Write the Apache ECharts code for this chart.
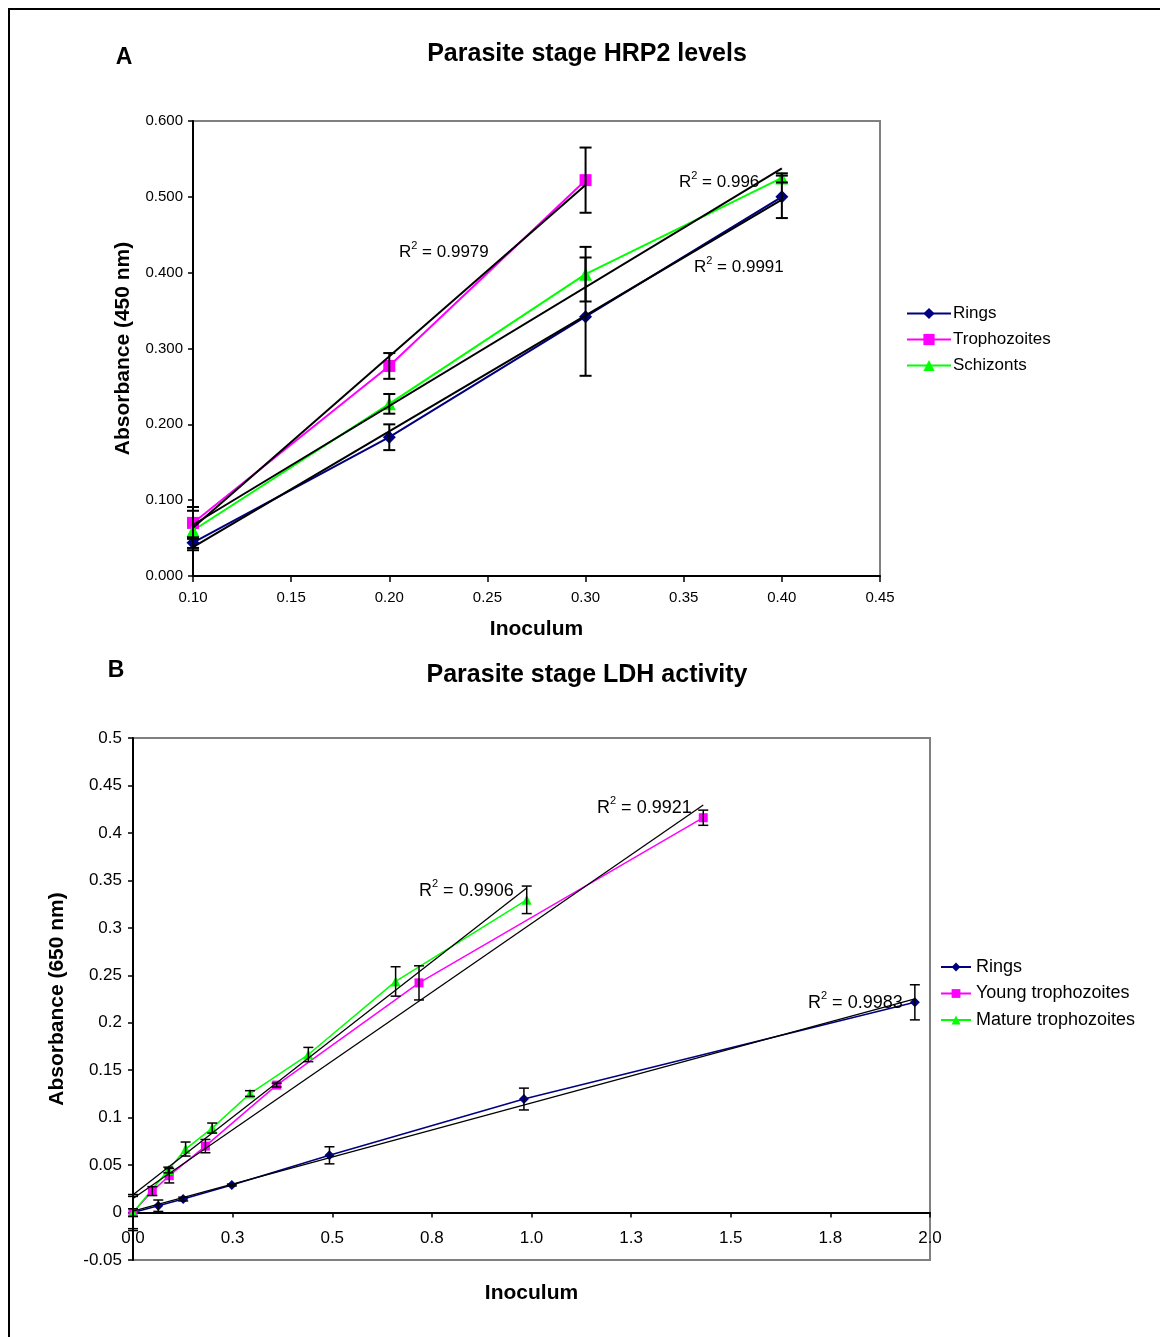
<!DOCTYPE html>
<html>
<head>
<meta charset="utf-8">
<script src="https://cdn.jsdelivr.net/npm/echarts@6/dist/echarts.min.js"></script>
<style>
  html, body { margin: 0; padding: 0; background: #fff; }
  #wrap { position: relative; width: 1160px; height: 1337px; overflow: hidden; }
  #frame { position: absolute; left: 8px; top: 8px; width: 1160px; height: 1340px; border-top: 2px solid #000; border-left: 2px solid #000; }
  #chartA { position: absolute; left: 0; top: 0; width: 1160px; height: 650px; }
  #chartB { position: absolute; left: 0; top: 650px; width: 1160px; height: 687px; }
</style>
</head>
<body>
<div id="wrap">
  <div id="frame"></div>
  <div id="chartA"></div>
  <div id="chartB"></div>
</div>
<script>
// ---------- Chart A data: Parasite stage HRP2 levels ----------
const A_titles = ['Parasite stage HRP2 levels', 'Inoculum', 'Absorbance (450 nm)'];
const A_names = ['Rings', 'Trophozoites', 'Schizonts'];
const A_ringsX = [0.10, 0.20, 0.30, 0.40];
const A_ringsY = [0.044, 0.183, 0.342, 0.500];
const A_ringsErr = [0.007, 0.017, 0.078, 0.028];
const A_trophoX = [0.10, 0.20, 0.30];
const A_trophoY = [0.070, 0.277, 0.522];
const A_trophoErr = [0.021, 0.017, 0.043];
const A_schizX = [0.10, 0.20, 0.30, 0.40];
const A_schizY = [0.060, 0.227, 0.398, 0.525];
const A_schizErr = [0.026, 0.013, 0.036, 0.006];
const A_r2 = ['0.9991', '0.9979', '0.996'];

// ---------- Chart B data: Parasite stage LDH activity ----------
const B_titles = ['Parasite stage LDH activity', 'Inoculum', 'Absorbance (650 nm)'];
const B_names = ['Rings', 'Young trophozoites', 'Mature trophozoites'];
const B_ringsX = [0, 0.0635, 0.126, 0.248, 0.493, 0.981, 1.962];
const B_ringsY = [0, 0.0072, 0.0142, 0.029, 0.0603, 0.1196, 0.2215];
const B_ringsErr = [0.004, 0.006, 0.002, 0.001, 0.009, 0.0115, 0.0185];
const B_youngX = [0, 0.0485, 0.091, 0.1817, 0.3605, 0.7177, 1.431];
const B_youngY = [0, 0.0226, 0.0388, 0.0700, 0.1343, 0.2420, 0.4160];
const B_youngErr = [0.017, 0.0047, 0.0076, 0.007, 0.002, 0.018, 0.008];
const B_matureX = [0, 0.0886, 0.132, 0.1987, 0.2936, 0.440, 0.659, 0.988];
const B_matureY = [0, 0.0448, 0.0669, 0.0890, 0.1254, 0.1665, 0.2435, 0.3295];
const B_matureErr = [0.019, 0.003, 0.0074, 0.0053, 0.003, 0.0075, 0.0155, 0.0145];
const B_r2 = ['0.9983', '0.9921', '0.9906'];
const B_xTickLabels = ['0.0', '0.3', '0.5', '0.8', '1.0', '1.3', '1.5', '1.8', '2.0'];

// ---------- helpers ----------
const FONT = '"Liberation Sans", Arial, Helvetica, sans-serif';
const NAVY = '#000080', MAGENTA = '#FF00FF', LIME = '#00FF00';

function pairs(xs, ys) { return xs.map((x, i) => [x, ys[i]]); }
function errData(xs, ys, es) { return xs.map((x, i) => [x, ys[i] - es[i], ys[i] + es[i]]); }
function linFit(xs, ys) {
  const n = xs.length;
  const mx = xs.reduce((a, b) => a + b, 0) / n;
  const my = ys.reduce((a, b) => a + b, 0) / n;
  let sxy = 0, sxx = 0;
  for (let i = 0; i < n; i++) { sxy += (xs[i] - mx) * (ys[i] - my); sxx += (xs[i] - mx) * (xs[i] - mx); }
  const b = sxy / sxx, a = my - b * mx;
  const x0 = Math.min(...xs), x1 = Math.max(...xs);
  return [[x0, a + b * x0], [x1, a + b * x1]];
}
function errSeries(data, cap, lw) {
  return {
    type: 'custom', data: data, encode: { x: 0, y: [1, 2] }, z: 5, silent: true,
    renderItem: function (params, api) {
      const x = api.value(0);
      const lo = api.coord([x, api.value(1)]);
      const hi = api.coord([x, api.value(2)]);
      const st = { stroke: '#000', lineWidth: lw };
      return { type: 'group', children: [
        { type: 'line', shape: { x1: lo[0], y1: lo[1], x2: hi[0], y2: hi[1] }, style: st },
        { type: 'line', shape: { x1: lo[0] - cap, y1: lo[1], x2: lo[0] + cap, y2: lo[1] }, style: st },
        { type: 'line', shape: { x1: hi[0] - cap, y1: hi[1], x2: hi[0] + cap, y2: hi[1] }, style: st }
      ]};
    }
  };
}
function trendSeries(xs, ys, lw) {
  return { type: 'line', data: linFit(xs, ys), symbol: 'none', z: 4, silent: true,
    lineStyle: { color: '#000', width: lw }, itemStyle: { color: '#000' } };
}
function dataSeries(name, xs, ys, color, symbol, size, lw) {
  return { name: name, type: 'line', data: pairs(xs, ys), symbol: symbol, symbolSize: size, z: 3,
    showSymbol: true, lineStyle: { color: color, width: lw }, itemStyle: { color: color } };
}
function r2Text(left, top, val, fs) {
  return { type: 'text', left: left, top: top, z: 10,
    style: { text: '{a|R}{s|2}{a| = ' + val + '}', font: fs + 'px ' + FONT, fill: '#000',
      rich: { a: { fontSize: fs, fontFamily: FONT, fill: '#000', lineHeight: fs + 4, verticalAlign: 'bottom' },
              s: { fontSize: Math.round(fs * 0.62), fontFamily: FONT, fill: '#000', lineHeight: fs + 4, verticalAlign: 'top' } } } };
}
function centerText(x, y, txt, font) {
  return { type: 'text', x: x, y: y, z: 10,
    style: { text: txt, font: font, fill: '#000', align: 'center', verticalAlign: 'middle' } };
}

// ---------- Chart A ----------
const chartA = echarts.init(document.getElementById('chartA'), null, { renderer: 'canvas' });
chartA.setOption({
  animation: false,
  backgroundColor: 'transparent',
  textStyle: { fontFamily: FONT },
  grid: { left: 193, top: 121, width: 687, height: 455, show: true, borderColor: '#808080', borderWidth: 2,
    backgroundColor: '#fff', containLabel: false, outerBoundsMode: 'none' },
  xAxis: {
    type: 'value', min: 0.10, max: 0.45, interval: 0.05,
    name: A_titles[1], nameLocation: 'middle', nameGap: 43,
    nameTextStyle: { fontSize: 21, fontWeight: 'bold', color: '#000', fontFamily: FONT },
    axisLine: { show: true, onZero: false, lineStyle: { color: '#000', width: 2 } },
    axisTick: { show: true, length: 6, lineStyle: { color: '#000', width: 1.5 } },
    axisLabel: { fontSize: 15, color: '#000', margin: 14, fontFamily: FONT, formatter: v => v.toFixed(2) },
    splitLine: { show: false }
  },
  yAxis: {
    type: 'value', min: 0, max: 0.6, interval: 0.1,
    name: A_titles[2], nameLocation: 'middle', nameGap: 59, nameRotate: 90,
    nameTextStyle: { fontSize: 21, fontWeight: 'bold', color: '#000', fontFamily: FONT },
    axisLine: { show: true, onZero: false, lineStyle: { color: '#000', width: 2 } },
    axisTick: { show: true, length: 5, lineStyle: { color: '#000', width: 1.5 } },
    axisLabel: { fontSize: 15, color: '#000', margin: 10, fontFamily: FONT, formatter: v => v.toFixed(3) },
    splitLine: { show: false }
  },
  legend: {
    orient: 'vertical', left: 906, top: 305, padding: 0, itemWidth: 44, itemHeight: 14, itemGap: 9,
    data: A_names, selectedMode: false,
    textStyle: { fontSize: 17, color: '#000', fontFamily: FONT, padding: [0, 0, 0, -3] }
  },
  graphic: [
    centerText(124, 58, 'A', 'bold 23px ' + FONT),
    centerText(587, 54, A_titles[0], 'bold 25px ' + FONT),
    r2Text(399, 240, A_r2[1], 17),
    r2Text(679, 170, A_r2[2], 17),
    r2Text(694, 255, A_r2[0], 17)
  ],
  series: [
    dataSeries(A_names[0], A_ringsX, A_ringsY, NAVY, 'diamond', 13, 2),
    dataSeries(A_names[1], A_trophoX, A_trophoY, MAGENTA, 'rect', 12, 2),
    dataSeries(A_names[2], A_schizX, A_schizY, LIME, 'triangle', 13, 2),
    trendSeries(A_ringsX, A_ringsY, 2),
    trendSeries(A_trophoX, A_trophoY, 2),
    trendSeries(A_schizX, A_schizY, 2),
    errSeries(errData(A_ringsX, A_ringsY, A_ringsErr), 6, 2),
    errSeries(errData(A_trophoX, A_trophoY, A_trophoErr), 6, 2),
    errSeries(errData(A_schizX, A_schizY, A_schizErr), 6, 2)
  ]
});

// ---------- Chart B ----------
const B_yMin = -0.05, B_yMax = 0.5, B_gridH = 522;
const chartB = echarts.init(document.getElementById('chartB'), null, { renderer: 'canvas' });
chartB.setOption({
  animation: false,
  backgroundColor: 'transparent',
  textStyle: { fontFamily: FONT },
  grid: { left: 133, top: 88, width: 797, height: B_gridH, show: true, borderColor: '#808080', borderWidth: 2,
    backgroundColor: '#fff', containLabel: false, outerBoundsMode: 'none' },
  xAxis: {
    type: 'value', min: 0, max: 2, interval: 0.25,
    // axis drawn along y = 0 (offset inward from the grid bottom)
    offset: -Math.round(B_gridH * (0 - B_yMin) / (B_yMax - B_yMin) * 10) / 10,
    name: B_titles[1], nameLocation: 'middle', nameGap: 70,
    nameTextStyle: { fontSize: 21, fontWeight: 'bold', color: '#000', fontFamily: FONT },
    axisLine: { show: true, onZero: false, lineStyle: { color: '#000', width: 2 } },
    axisTick: { show: true, length: 5, lineStyle: { color: '#000', width: 1.5 } },
    axisLabel: { fontSize: 17, color: '#000', margin: 17, fontFamily: FONT,
      formatter: (v) => B_xTickLabels[Math.round(v / 0.25)] },
    splitLine: { show: false }
  },
  yAxis: {
    type: 'value', min: B_yMin, max: B_yMax, interval: 0.05,
    name: B_titles[2], nameLocation: 'middle', nameGap: 65, nameRotate: 90,
    nameTextStyle: { fontSize: 21, fontWeight: 'bold', color: '#000', fontFamily: FONT },
    axisLine: { show: true, onZero: false, lineStyle: { color: '#000', width: 2 } },
    axisTick: { show: true, length: 5, lineStyle: { color: '#000', width: 1.5 } },
    axisLabel: { fontSize: 17, color: '#000', margin: 11, fontFamily: FONT,
      formatter: v => String(parseFloat(v.toFixed(2))) },
    splitLine: { show: false }
  },
  legend: {
    orient: 'vertical', left: 940, top: 308, padding: 0, itemWidth: 30, itemHeight: 11, itemGap: 8.5,
    data: B_names, selectedMode: false,
    textStyle: { fontSize: 18, color: '#000', fontFamily: FONT }
  },
  graphic: [
    centerText(116, 21, 'B', 'bold 23px ' + FONT),
    centerText(587, 25, B_titles[0], 'bold 25px ' + FONT),
    r2Text(597, 145, B_r2[1], 18),
    r2Text(419, 228, B_r2[2], 18),
    r2Text(808, 340, B_r2[0], 18)
  ],
  series: [
    dataSeries(B_names[0], B_ringsX, B_ringsY, NAVY, 'diamond', 10, 1.5),
    dataSeries(B_names[1], B_youngX, B_youngY, MAGENTA, 'rect', 9, 1.5),
    dataSeries(B_names[2], B_matureX, B_matureY, LIME, 'triangle', 10, 1.5),
    trendSeries(B_ringsX, B_ringsY, 1.3),
    trendSeries(B_youngX, B_youngY, 1.3),
    trendSeries(B_matureX, B_matureY, 1.3),
    errSeries(errData(B_ringsX, B_ringsY, B_ringsErr), 5, 1.5),
    errSeries(errData(B_youngX, B_youngY, B_youngErr), 5, 1.5),
    errSeries(errData(B_matureX, B_matureY, B_matureErr), 5, 1.5)
  ]
});
</script>
</body>
</html>
